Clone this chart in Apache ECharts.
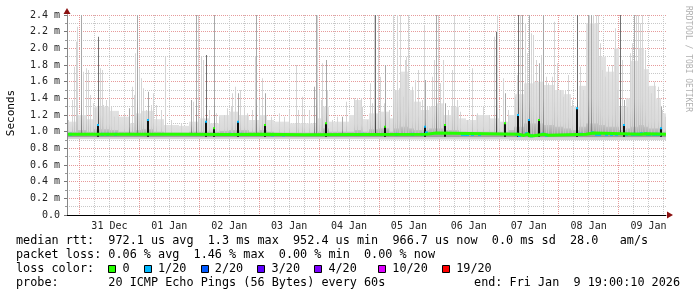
<!DOCTYPE html>
<html><head><meta charset="utf-8">
<script src="https://cdn.jsdelivr.net/npm/echarts@6/dist/echarts.min.js"></script>
<style>html,body{margin:0;padding:0;background:#fff}#c{width:697px;height:297px}</style>
</head><body><div id="c"></div>
<script>
// time unit: hours since 31 Dec 2025 00:00 ; values in ms
const X_MIN = -5, X_MAX = 235;
const dayLabels = ['31 Dec','01 Jan','02 Jan','03 Jan','04 Jan','05 Jan','06 Jan','07 Jan','08 Jan','09 Jan'];
const yTickStep = 0.2;

// light smoke envelope (step segments)
const hazeHours = [-5,-1,3,6,12,16,20,22,25,30,34,40,44,48,52,56,60,64,68,72,75,78,84,90,95,97,100,104,108,110,113,116,120,124,126,129,132,134,137,140,143,146,149,152,155,159,164,168,172,174,178,182,186,190,194,197,200,203,208,211,214,216,219,221,224,226,228,231,233];
const hazeTop = [1.12,1.2,1.15,1.3,1.25,1.18,1.1,1.22,1.25,1.15,1.08,1.07,1.12,1.16,1.1,1.2,1.24,1.2,1.14,1.2,1.14,1.12,1.1,1.1,1.16,1.3,1.12,1.12,1.2,1.38,1.15,1.22,1.24,1.16,1.5,1.72,1.5,1.36,1.26,1.3,1.34,1.2,1.3,1.16,1.14,1.2,1.16,1.12,1.2,1.45,1.58,1.6,1.56,1.5,1.45,1.3,1.55,2.3,1.9,1.72,2.0,1.3,1.4,1.85,2.0,1.75,1.55,1.4,1.22];
const hazeLow = [0.91,0.91,0.91,0.91,0.91,0.91,0.91,0.91,0.91,0.91,0.91,0.91,0.91,0.91,0.91,0.91,0.91,0.91,0.91,0.91,0.91,0.91,0.91,0.91,0.91,0.91,0.91,0.91,0.91,0.91,0.91,0.91,0.905,0.905,0.905,0.905,0.905,0.905,0.905,0.905,0.905,0.905,0.905,0.905,0.905,0.905,0.905,0.905,0.9,0.9,0.9,0.9,0.9,0.9,0.9,0.9,0.9,0.9,0.9,0.9,0.9,0.9,0.9,0.9,0.9,0.9,0.9,0.9,0.9];
// darker smoke core around the median
const coreTop = [1.0,1.02,1.0,1.03,1.02,1.0,1.0,1.02,1.03,1.0,0.99,0.99,1.0,1.0,1.0,1.01,1.02,1.02,1.0,1.02,1.0,0.99,0.99,0.99,1.0,1.04,1.0,1.0,1.0,1.02,1.0,1.03,1.04,1.0,1.04,1.06,1.04,1.02,1.02,1.04,1.04,1.02,1.02,1.0,1.0,1.0,1.0,1.0,1.02,1.06,1.1,1.1,1.08,1.06,1.04,1.02,1.06,1.1,1.08,1.06,1.06,1.02,1.04,1.06,1.08,1.06,1.04,1.04,1.0];
const coreLow = 0.935;

// individual smoke spikes: hour, max ping (ms), shade (0 light,1 mid,2 dark)
const spikeHours = [-4.7,-3.0,-2.1,-1.4,-0.9,0.6,1.5,2.6,3.3,4.2,5.3,6.3,7.3,8.3,8.9,9.5,10.6,11.7,12.6,13.9,15.3,17.9,19.9,20.9,21.7,22.2,22.9,23.7,24.6,25.5,26.6,27.5,28.6,29.5,30.6,32.6,34.3,
 36.6,40.6,44.6,45.3,46.6,47.3,48.6,49.5,50.6,51.9,53.7,54.6,56.0,57.9,59.3,60.6,61.3,62.3,63.4,64.2,65.9,67.3,69.3,70.3,70.9,71.9,73.3,74.5,
 76.6,79.9,81.9,83.9,86.6,87.7,89.0,89.9,91.9,93.9,94.6,95.3,95.9,96.6,97.3,98.6,99.3,101.3,103.3,105.3,106.6,109.9,111.3,112.6,113.3,
 115.3,116.6,117.3,117.9,118.6,119.7,120.6,121.9,122.6,123.9,125.5,126.3,127.3,127.9,128.6,129.5,130.3,130.9,131.7,133.3,134.6,135.5,137.3,137.9,138.6,139.3,141.3,142.2,142.9,143.7,144.6,145.5,146.6,147.7,149.3,149.9,151.3,152.6,
 155.3,157.3,159.3,161.5,163.9,165.9,166.9,167.3,167.9,169.5,170.6,171.5,174.6,175.3,175.9,176.6,177.5,178.6,179.3,180.2,181.0,181.9,182.9,184.2,185.0,185.9,186.9,187.9,189.3,190.3,191.3,192.6,193.9,194.6,
 195.9,197.3,199.3,200.6,201.9,203.7,204.2,205.0,205.9,206.9,207.9,208.6,209.5,210.6,211.9,213.3,214.6,215.3,216.6,217.3,218.3,219.3,220.6,221.3,222.3,222.9,223.7,224.6,225.5,226.6,227.7,229.0,230.3,231.9,233.0,233.5,234.6];
const spikeTop = [1.14,1.38,1.78,2.08,2.26,2.40,1.72,1.76,1.74,1.44,1.34,1.28,2.14,1.76,1.74,1.32,1.38,1.40,1.30,1.18,1.18,1.22,1.28,1.54,1.44,1.94,2.40,1.76,1.64,1.52,1.26,1.48,1.32,1.46,1.32,1.26,1.90,
 1.14,1.10,1.38,1.36,2.40,2.40,1.90,1.86,1.92,1.26,2.40,1.22,1.18,1.20,1.28,1.30,1.46,1.54,1.46,1.50,1.30,1.22,1.26,1.90,2.40,1.38,1.64,1.46,
 1.18,1.22,1.18,1.26,1.80,1.26,1.42,1.26,1.26,1.54,2.40,2.40,1.50,1.38,1.82,1.86,1.50,1.14,1.18,1.18,1.36,1.40,1.40,1.40,1.30,
 1.14,1.58,1.34,2.40,2.40,2.40,1.66,1.34,1.80,1.26,2.40,1.50,2.40,1.52,2.40,1.42,1.86,1.90,2.40,1.54,1.62,1.74,1.38,2.28,1.62,1.30,1.66,1.86,2.40,2.40,1.58,1.86,1.34,1.26,1.74,2.40,1.38,1.24,
 1.14,1.76,1.22,1.30,1.20,2.14,2.20,2.40,1.26,1.64,1.46,1.26,1.42,1.68,2.40,2.40,2.40,2.30,1.94,2.40,2.18,2.16,1.86,1.82,1.92,2.40,1.66,1.58,1.66,2.32,1.82,1.50,1.42,1.50,
 1.68,1.38,2.40,1.78,1.50,2.40,2.40,2.40,2.40,2.40,2.40,2.06,1.74,1.66,1.78,1.80,2.24,1.50,2.40,1.86,1.38,1.30,1.94,2.06,2.40,2.40,2.40,2.30,2.40,1.98,1.54,1.46,1.60,1.54,1.30,1.26,1.18];
const spikeShade = [0,0,0,0,0,1,0,0,0,0,0,0,2,0,0,0,0,0,0,0,0,0,1,0,0,0,1,0,0,0,0,1,0,0,0,0,0,
 0,0,1,0,1,0,0,0,2,0,1,0,0,0,0,0,0,0,1,0,0,0,0,0,1,0,0,1,
 0,0,0,0,0,0,0,0,0,1,1,0,0,0,0,1,0,0,0,1,0,0,0,0,0,
 0,0,0,0,2,0,0,0,1,0,0,0,0,0,0,0,0,0,0,0,0,0,0,0,1,0,0,0,1,0,0,0,1,0,0,0,0,0,
 0,0,0,0,0,0,2,0,0,0,1,0,0,0,2,0,1,0,0,1,0,0,0,1,0,1,0,0,0,0,0,0,0,0,
 0,0,2,0,0,1,0,1,0,0,0,0,0,0,0,0,0,0,2,0,1,0,0,0,1,0,0,0,0,0,0,0,0,0,1,0,0];

// dense (black) columns with loss colour of their median: hour, top (ms), loss index
const barHours = [7.3,27.5,50.6,53.7,63.4,74.5,98.6,122.6,138.6,146.6,170.6,175.9,180.2,184.2,199.3,218.3,233.0];
const barTop   = [1.08,1.14,1.12,1.04,1.12,1.08,1.10,1.06,1.06,1.08,1.10,1.20,1.14,1.14,1.28,1.08,1.04];
const barLoss  = [1,1,1,0,1,0,0,0,1,0,0,1,1,0,1,1,1];

// median rtt (step)
const medianHours = [-5,40,60,74,90,110,139,143,176,178,180,182,186,188,203,206,225,227,235];
const medianVals  = [0.968,0.966,0.968,0.962,0.966,0.968,0.985,0.968,0.955,0.975,0.950,0.970,0.958,0.968,0.985,0.968,0.975,0.968,0.968];

// median segments with 1/20 loss
const lossHours = [-3.8,9,11,14.2,55.4,60.2,64.2,77,81.4,113,127,133.4,137.4,139,153.4,154.6,155.4,157.4,160.2,175,176.2,179,181,185.4,187,200.2,201,205.4,207,208.2,211,213,215,219,221.4,222.2,223.4,224.2,225,226.6,227.4,228.2,229.8,230.6,231.4,232.2];
const lossLevel = [1,1,1,1,1,1,1,1,1,1,1,1,1,1,1,1,1,1,1,1,1,1,1,1,1,1,1,1,1,1,1,1,1,1,1,1,1,1,1,1,1,1,1,1,1,1];

const lossColors = ['#26ff00','#00b8ff','#0059ff','#5e00ff','#7e00ff','#dd00ff','#ff0000'];
const lossLabels = ['0','1/20','2/20','3/20','4/20','10/20','19/20'];

const statLines = [
  'median rtt:  972.1 us avg  1.3 ms max  952.4 us min  966.7 us now  0.0 ms sd  28.0   am/s',
  'packet loss: 0.06 % avg  1.46 % max  0.00 % min  0.00 % now'
];
const probeText = 'probe:       20 ICMP Echo Pings (56 Bytes) every 60s';
const endText = 'end: Fri Jan  9 19:00:10 2026';

// ---------- derived ----------
function medianAt(h){
  let v = medianVals[0];
  for (let i=0;i<medianHours.length;i++){ if (medianHours[i] <= h) v = medianVals[i]; }
  return v;
}
const gridHours = []; for (let h=0; h<X_MAX; h+=6) gridHours.push(h);
const noonHours = dayLabels.map((d,i)=>12+24*i);

const hazeData = hazeHours.map((h,i)=>[h, i<hazeHours.length-1?hazeHours[i+1]:X_MAX, hazeLow[i], hazeTop[i]]);
const coreData = hazeHours.map((h,i)=>[h, i<hazeHours.length-1?hazeHours[i+1]:X_MAX, coreLow, coreTop[i]]);
const spikeData = spikeHours.map((h,i)=>[h, spikeTop[i], spikeShade[i]]);
const barData = barHours.map((h,i)=>[h, barTop[i], barLoss[i]]);
const lossData = lossHours.map((h,i)=>[h, medianAt(h), lossLevel[i]]);
const medianData = medianHours.map((h,i)=>[h, medianVals[i]]);

function bandRender(c1, c2){
  return function(params, api){
    const p0 = api.coord([api.value(0), api.value(3)]);
    const p1 = api.coord([api.value(1), api.value(2)]);
    const x0 = Math.round(p0[0]), x1 = Math.round(p1[0]);
    return {type:'rect', shape:{x:x0, y:p0[1], width:x1-x0, height:p1[1]-p0[1]},
      style:{fill:new echarts.graphic.LinearGradient(0,0,0,1,[{offset:0,color:c1},{offset:1,color:c2}])}};
  };
}
const shadeCols = [['#d4d4d4','#bdbdbd'],['#a8a8a8','#7a7a7a'],['#707070','#404040']];
function spikeRender(params, api){
  const h = api.value(0), top = api.value(1), s = api.value(2);
  const pt = api.coord([h, top]);
  const pb = api.coord([h, medianAt(h)]);
  const x = Math.round(pt[0]);
  return {type:'rect', shape:{x:x, y:pt[1], width:1, height:pb[1]-pt[1]},
    style:{fill:new echarts.graphic.LinearGradient(0,0,0,1,[{offset:0,color:shadeCols[s][0]},{offset:0.7,color:shadeCols[s][0]},{offset:1,color:shadeCols[s][1]}])}};
}
function barRender(params, api){
  const h = api.value(0), top = api.value(1), l = api.value(2);
  const pt = api.coord([h, top]);
  const pb = api.coord([h, 0.94]);
  const x = Math.round(pt[0]) - 1;
  return {type:'group', children:[
    {type:'rect', shape:{x:x, y:pt[1], width:2, height:pb[1]-pt[1]}, style:{fill:'#111'}},
    {type:'rect', shape:{x:x, y:pt[1]-1, width:2, height:2}, style:{fill:lossColors[l]}}
  ]};
}
function lossRender(params, api){
  const p = api.coord([api.value(0), api.value(1)]);
  return {type:'rect', shape:{x:Math.round(p[0])-1, y:p[1]-1.5, width:3, height:3}, style:{fill:lossColors[api.value(2)]}};
}

// legend graphics
const FONT = '"DejaVu Sans Mono", monospace';
const CW = 7.1, LX = 16;
const graphics = [];
statLines.forEach((t,i)=>graphics.push({type:'text', x:LX, y:241+14*i, style:{text:t, font:'11.8px '+FONT, fill:'#000', verticalAlign:'middle'}}));
const boxIdx = [13,18,26,34,42,51,60];
graphics.push({type:'text', x:LX, y:269, style:{text:'loss color:', font:'11.8px '+FONT, fill:'#000', verticalAlign:'middle'}});
lossLabels.forEach((lab,i)=>{
  const bx = LX + boxIdx[i]*CW;
  graphics.push({type:'rect', shape:{x:Math.round(bx)+0.5, y:265.5, width:7, height:7}, style:{fill:lossColors[i], stroke:'#000', lineWidth:1}});
  graphics.push({type:'text', x:bx+2*CW, y:269, style:{text:lab, font:'11.8px '+FONT, fill:'#000', verticalAlign:'middle'}});
});
graphics.push({type:'text', x:LX, y:283, style:{text:probeText, font:'11.8px '+FONT, fill:'#000', verticalAlign:'middle'}});
graphics.push({type:'text', x:680, y:283, style:{text:endText, font:'11.8px '+FONT, fill:'#000', verticalAlign:'middle', align:'right'}});
graphics.push({type:'text', x:11, y:113, rotation:Math.PI/2, style:{text:'Seconds', font:'11px '+FONT, fill:'#000', verticalAlign:'middle', align:'center'}});
graphics.push({type:'text', x:688, y:59, rotation:-Math.PI/2, style:{text:'RRDTOOL / TOBI OETIKER', font:'8px '+FONT, fill:'#b0b0b0', verticalAlign:'middle', align:'center'}});

const MAJOR = 'rgba(222,120,120,0.75)', MINOR = '#c8c8c8';

const option = {
  animation:false,
  backgroundColor:'#fff',
  grid:{left:67, right:31, top:15, bottom:82},
  xAxis:{type:'value', min:X_MIN, max:X_MAX,
    axisLine:{show:true, onZero:false, symbol:['none','triangle'], symbolSize:[7,6], symbolOffset:[0,4], lineStyle:{color:'#8b1010', width:1}},
    axisTick:{show:false, customValues:gridHours},
    axisLabel:{customValues:noonHours, margin:6, fontFamily:'DejaVu Sans Mono', fontSize:10, color:'#222',
      formatter:v=>dayLabels[Math.round((v-12)/24)]},
    splitLine:{show:true, lineStyle:{color:[MAJOR,MINOR,MINOR,MINOR], type:[1,1], width:1}}},
  yAxis:{type:'value', min:0, max:2.4, interval:yTickStep,
    axisLine:{show:true, onZero:false, symbol:['none','triangle'], symbolSize:[7,6], symbolOffset:[0,4], lineStyle:{color:'#8b1010', width:1}},
    axisTick:{show:true, length:3, lineStyle:{color:'#777'}},
    minorTick:{show:true, splitNumber:2, length:2, lineStyle:{color:'#999'}},
    axisLabel:{margin:7, fontFamily:'DejaVu Sans Mono', fontSize:10, color:'#222',
      formatter:v=>v===0?'0.0':v.toFixed(1)+' m'},
    splitLine:{show:true, lineStyle:{color:MAJOR, type:[1,1]}},
    minorSplitLine:{show:true, lineStyle:{color:MINOR, type:[1,1]}}},
  graphic:graphics,
  series:[
    {type:'custom', name:'haze', renderItem:bandRender('#e2e2e2','#d4d4d4'), data:hazeData, encode:{x:[0,1], y:[2,3]}, silent:true, clip:true},
    {type:'custom', name:'core', renderItem:bandRender('#c4c4c4','#9a9a9a'), data:coreData, encode:{x:[0,1], y:[2,3]}, silent:true, clip:true},
    {type:'custom', name:'spikes', renderItem:spikeRender, data:spikeData, encode:{x:0, y:1}, silent:true, clip:true},
    {type:'line', name:'median', data:medianData, step:'end', symbol:'none', silent:true,
      lineStyle:{color:lossColors[0], width:3},
      markLine:{silent:true, symbol:'none', label:{show:false}, animation:false,
        data:[{yAxis:0, lineStyle:{color:'#000', type:'solid', width:1}}, {xAxis:X_MIN, lineStyle:{color:'#888', type:'solid', width:1}}]}},
    {type:'custom', name:'bars', renderItem:barRender, data:barData, encode:{x:0, y:1}, silent:true, clip:true},
    {type:'custom', name:'loss', renderItem:lossRender, data:lossData, encode:{x:0, y:1}, silent:true, clip:true}
  ]
};
const chart = echarts.init(document.getElementById('c'), null, {renderer:'canvas'});
chart.setOption(option);
</script>
</body></html>
